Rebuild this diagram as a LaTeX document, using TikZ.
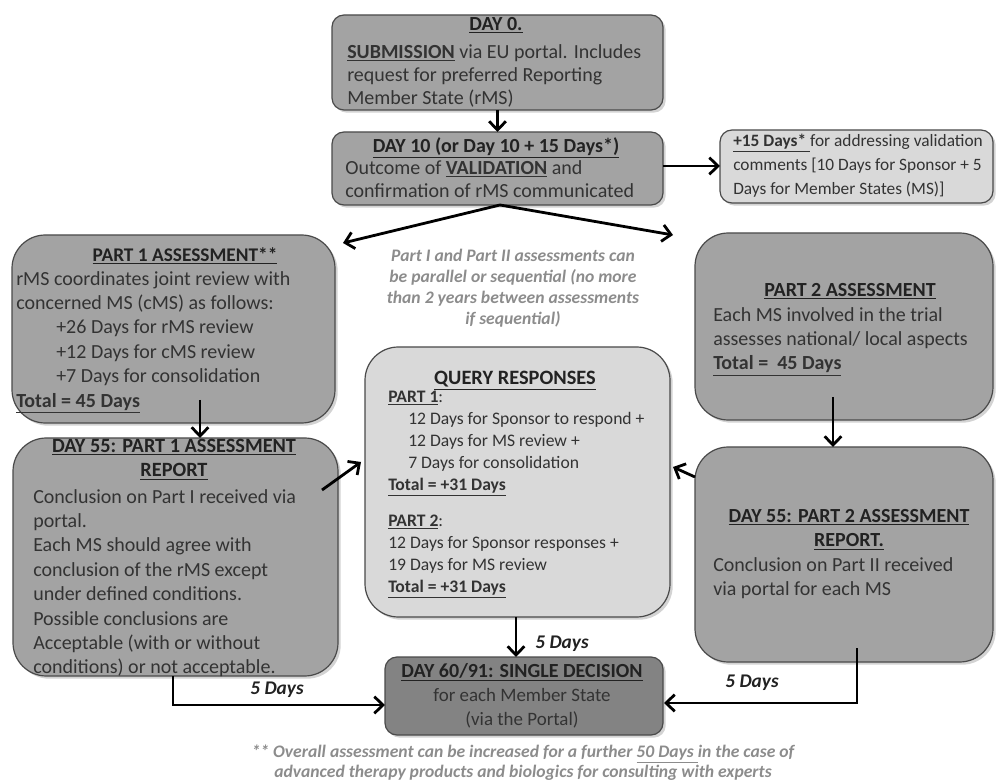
\documentclass[tikz,border=0pt]{standalone}
\usepackage{fontspec}
\setmainfont{Carlito}
\usetikzlibrary{arrows.meta,shadows}
\definecolor{boxgray}{HTML}{A3A3A3}
\definecolor{lightbox}{HTML}{D9D9D9}
\definecolor{darkbox}{HTML}{838383}
\definecolor{txt}{HTML}{333333}
\definecolor{ttl}{HTML}{222222}
\definecolor{notegray}{HTML}{8C8C8C}
\definecolor{edge}{HTML}{4A4A4A}
\tikzset{
  box/.style={draw=edge, line width=0.9pt, fill=boxgray, inner sep=0pt, outer sep=0pt,
    drop shadow={shadow xshift=2pt, shadow yshift=-2pt, opacity=0.35}},
  bigbox/.style={box, rounded corners=25pt},
  smallbox/.style={box, rounded corners=9pt},
  arr/.style={line width=2.1pt, -{Straight Barb[length=6.5pt,width=12.5pt]}},
  body/.style={inner sep=0pt, anchor=north west, align=left, text=txt},
  ttlnode/.style={inner sep=0pt, anchor=north, align=center, text=ttl},
  fA/.style={font=\fontsize{15}{17.5}\selectfont},
  fB/.style={font=\fontsize{15}{18.3}\selectfont},
  fQ/.style={font=\fontsize{13.2}{16.5}\selectfont},
  fP/.style={font=\fontsize{13}{17.8}\selectfont},
  daylbl/.style={inner sep=0pt, text=ttl, font=\fontsize{14.5}{16}\selectfont\bfseries\itshape},
  note/.style={inner sep=0pt, anchor=north, align=center, text=notegray, font=\bfseries\itshape}
}
\newcommand{\ut}[1]{\underline{\textbf{#1}}}
\begin{document}
\begin{tikzpicture}[x=0.75pt,y=-0.75pt]
\useasboundingbox (0,0) rectangle (996,780);
% boxes
\node[smallbox, minimum width=248.25pt, minimum height=71.25pt] (d0) at (497.5,62.5) {};
\node[smallbox, minimum width=248.25pt, minimum height=54.75pt] (d10) at (497.5,168.5) {};
\node[smallbox, fill=lightbox, minimum width=204.75pt, minimum height=54.75pt] (p15) at (856.5,166.5) {};
\node[bigbox, minimum width=242.25pt, minimum height=141pt] (p1) at (173.5,329) {};
\node[bigbox, minimum width=223.5pt, minimum height=140.25pt] (p2) at (844,326.5) {};
\node[bigbox, fill=lightbox, minimum width=228.75pt, minimum height=202.5pt] (q) at (517.5,482) {};
\node[bigbox, minimum width=243.75pt, minimum height=178.5pt] (r1) at (175.5,557) {};
\node[bigbox, minimum width=223.5pt, minimum height=161.25pt] (r2) at (844,554.5) {};
\node[smallbox, fill=darkbox, minimum width=208.5pt, minimum height=58.5pt] (dec) at (524,696) {};

% texts
\node[ttlnode, fA] (d0t) at (496,17) {\ut{DAY 0.}};
\node[body, fA] (d0b) at (347,44) {\ut{SUBMISSION} via EU portal. Includes\\request for preferred Reporting\\Member State (rMS)};
\node[ttlnode, fA] (d10t) at (496,137) {\ut{DAY 10 (or Day 10 + 15 Days*)}};
\node[body, fA] (d10b) at (345,160) {Outcome of \ut{VALIDATION} and\\confirmation of rMS communicated};
\node[body, fP] (p15b) at (733,134) {\ut{+15 Days* }for addressing validation\\comments [10 Days for Sponsor + 5\\Days for Member States (MS)]};

\node[ttlnode, font=\fontsize{14.5}{18.3}\selectfont] (p1t) at (185,247) {\ut{PART 1 ASSESSMENT**}};
\node[body, fB] (p1b) at (16,271) {rMS coordinates joint review with\\concerned MS (cMS) as follows:\\\hspace*{30pt}+26 Days for rMS review\\\hspace*{30pt}+12 Days for cMS review\\\hspace*{30pt}+7 Days for consolidation\\\ut{Total = 45 Days}};

\node[note, font=\fontsize{13.2}{15.75}\selectfont\bfseries\itshape] (nt) at (513,249) {Part I and Part II assessments can\\be parallel or sequential (no more\\than 2 years between assessments\\if sequential)};

\node[ttlnode, fB] (p2t) at (850,283) {\ut{PART 2 ASSESSMENT}};
\node[body, fB] (p2b) at (713,307) {Each MS involved in the trial\\assesses national/ local aspects\\\ut{Total =\ \ 45 Days}};

\node[ttlnode, font=\fontsize{15.3}{16.5}\selectfont] (qt) at (515,371) {\ut{QUERY RESPONSES}};
\node[body, fQ] (qb1) at (388,391) {\ut{PART 1}:\\\hspace*{15pt}12 Days for Sponsor to respond +\\\hspace*{15pt}12 Days for MS review +\\\hspace*{15pt}7 Days for consolidation\\\ut{Total = +31 Days}};
\node[body, fQ] (qb2) at (388,515) {\ut{PART 2}:\\12 Days for Sponsor responses +\\19 Days for MS review\\\ut{Total = +31 Days}};

\node[ttlnode, font=\fontsize{15.2}{18.3}\selectfont] (r1t) at (174,439) {\ut{DAY 55: PART 1 ASSESSMENT}\\\ut{REPORT}};
\node[body, fB] (r1b) at (33,489) {Conclusion on Part I received via\\portal.\\Each MS should agree with\\conclusion of the rMS except\\under defined conditions.\\Possible conclusions are\\Acceptable (with or without\\conditions) or not acceptable.};

\node[ttlnode, fB] (r2t) at (849,509) {\ut{DAY 55: PART 2 ASSESSMENT}\\\ut{REPORT.}};
\node[body, fB] (r2b) at (713,557) {Conclusion on Part II received\\via portal for each MS};

\node[ttlnode, font=\fontsize{14.2}{18}\selectfont] (dect) at (522,663) {\ut{\fontsize{15}{18}\selectfont DAY 60/91: SINGLE DECISION}\\{\color{txt}for each Member State}\\{\color{txt}(via the Portal)}};

\node[note, font=\fontsize{13.2}{14.5}\selectfont\bfseries\itshape] (fn) at (523,745) {** Overall assessment can be increased for a further \underline{50 Days }in the case of\\advanced therapy products and biologics for consulting with experts};

% labels
\node[daylbl] (l1) at (277,690) {5 Days};
\node[daylbl] (l2) at (562,644) {5 Days};
\node[daylbl] (l3) at (752,683) {5 Days};

% connector coordinates
\coordinate (fork) at (500,205);
\coordinate (p1in) at (343,243);
\coordinate (p2in) at (673,235);
\coordinate (p1a) at (200,400);
\coordinate (p2a) at (833,397);
\coordinate (r1a) at (322,490);
\coordinate (qL) at (361,462);
\coordinate (r2a) at (695,477);
\coordinate (qR) at (673,467);
\coordinate (r1b) at (173,676);
\coordinate (decL) at (385,705);
\coordinate (r2b) at (857,648);
\coordinate (decR) at (664,703);

% connectors
\draw[arr] (d0.south) -- (d10.north);
\draw[arr] (d10.east |- 0,166) -- (p15.west |- 0,166);
\draw[arr] (fork) -- (p1in);
\draw[arr] (fork) -- (p2in);
\draw[arr] (p1a) -- (p1a |- r1.north);
\draw[arr] (p2a) -- (p2a |- r2.north);
\draw[arr] (r1a) -- (qL);
\draw[arr] (r2a) -- (qR);
\draw[arr] (q.south -| 516,0) -- (dec.north -| 516,0);
\draw[arr] (r1b) |- (decL);
\draw[arr] (r2b) |- (decR);
\end{tikzpicture}
\end{document}
